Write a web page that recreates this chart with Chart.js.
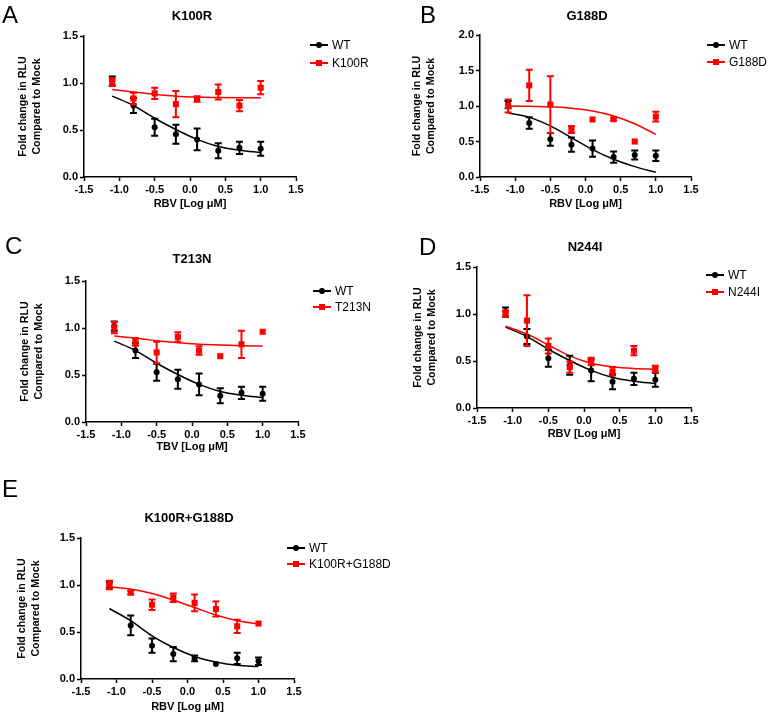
<!DOCTYPE html>
<html><head><meta charset="utf-8">
<script src="https://cdn.jsdelivr.net/npm/chart.js@4.4.1/dist/chart.umd.min.js"></script>
<style>
body{margin:0;background:#fff;width:768px;height:715px;overflow:hidden;position:relative;font-family:"Liberation Sans",Arial,sans-serif;color:#000;}
canvas{position:absolute;}
.t{position:absolute;transform:translate(-50%,-50%);font-weight:bold;font-size:13px;white-space:nowrap;}
.L{position:absolute;font-size:24px;line-height:1;}
.lg{position:absolute;font-size:12px;white-space:nowrap;transform:translateY(-50%);display:flex;align-items:center;}
.sw{position:relative;width:18px;height:8px;margin-right:4px;}
.sw .ln{position:absolute;left:0;right:0;top:3px;height:2px;}
.sw .mk{position:absolute;left:6px;top:1px;width:6px;height:6px;}
</style></head><body>
<script>
// ---- data ----
const doses = [-1.1, -0.8, -0.5, -0.2, 0.1, 0.4, 0.7, 1.0];
const xTickValues = [-1.5, -1.0, -0.5, 0, 0.5, 1.0, 1.5];
const yTickValues = [0, 0.5, 1.0, 1.5];
const yTickValuesB = [0, 0.5, 1.0, 1.5, 2.0];
const panelLetters = ['A', 'B', 'C', 'D', 'E'];
const panelTitles = ['K100R', 'G188D', 'T213N', 'N244I', 'K100R+G188D'];
const xTitles = ['RBV [Log \u03bcM]', 'RBV [Log \u03bcM]', 'TBV [Log \u03bcM]', 'RBV [Log \u03bcM]', 'RBV [Log \u03bcM]'];
const yTitle = ['Fold change in RLU', 'Compared to Mock'];
const wtName = 'WT';

const wtMean = [1.02, 0.76, 0.53, 0.455, 0.40, 0.28, 0.31, 0.30];
const wtErr  = [0.05, 0.08, 0.09, 0.10, 0.115, 0.08, 0.065, 0.075];
const wtFit  = [0.86, 0.76, 0.625, 0.505, 0.40, 0.325, 0.285, 0.26];
const wtFitB = [0.90, 0.84, 0.72, 0.555, 0.385, 0.25, 0.146, 0.066];

const k100rMean = [1.01, 0.835, 0.89, 0.775, 0.83, 0.905, 0.76, 0.95];
const k100rErr  = [0.04, 0.06, 0.06, 0.14, 0.03, 0.08, 0.06, 0.07];
const k100rFit  = [0.93, 0.905, 0.88, 0.86, 0.85, 0.846, 0.843, 0.842];

const g188dMean = [1.00, 1.29, 1.02, 0.67, 0.81, 0.815, 0.50, 0.85];
const g188dErr  = [0.09, 0.22, 0.40, 0.05, 0, 0.02, 0, 0.07];
const g188dFit  = [1.0, 0.995, 0.99, 0.97, 0.93, 0.86, 0.75, 0.60];

const t213nMean = [1.005, 0.85, 0.74, 0.905, 0.76, 0.70, 0.826, 0.96];
const t213nErr  = [0.06, 0.04, 0.115, 0.05, 0.045, 0, 0.145, 0];
const t213nFit  = [0.914, 0.893, 0.865, 0.844, 0.826, 0.82, 0.812, 0.808];

const n244iMean = [1.006, 0.93, 0.66, 0.435, 0.495, 0.39, 0.61, 0.415];
const n244iErr  = [0.03, 0.27, 0.08, 0.06, 0.04, 0.045, 0.05, 0.035];
const n244iFit  = [0.87, 0.787, 0.67, 0.554, 0.476, 0.438, 0.42, 0.413];

const eWtMean = [1.0, 0.57, 0.355, 0.265, 0.22, 0.16, 0.22, 0.19];
const eWtErr  = [0.03, 0.105, 0.075, 0.075, 0.03, 0, 0.06, 0.04];
const eWtFit  = [0.75, 0.62, 0.46, 0.335, 0.24, 0.18, 0.145, 0.134];

const dblMean = [1.0, 0.92, 0.79, 0.865, 0.81, 0.745, 0.56, 0.59];
const dblErr  = [0.045, 0.02, 0.055, 0.045, 0.09, 0.08, 0.07, 0];
const dblFit  = [0.98, 0.957, 0.91, 0.84, 0.76, 0.68, 0.62, 0.586];

// ---- rendering ----
Chart.defaults.font.family = "'Liberation Sans', Arial, sans-serif";
Chart.defaults.color = '#000';
const RED = '#ff0000', BLACK = '#000000';

const errorBarPlugin = {
  id: 'errbars',
  beforeDatasetDraw(chart, args) {
    const ds = chart.data.datasets[args.index];
    if (!ds.errors) return;
    const xs = chart.scales.x, ys = chart.scales.y, ctx = chart.ctx;
    ctx.save();
    ctx.strokeStyle = ds.borderColor; ctx.lineWidth = 2;
    ds.data.forEach((pt, i) => {
      const e = ds.errors[i]; if (!e) return;
      const px = xs.getPixelForValue(pt.x);
      const y1 = ys.getPixelForValue(pt.y + e), y2 = ys.getPixelForValue(pt.y - e);
      ctx.beginPath();
      ctx.moveTo(px, y1); ctx.lineTo(px, y2);
      ctx.moveTo(px - 3.5, y1); ctx.lineTo(px + 3.5, y1);
      ctx.moveTo(px - 3.5, y2); ctx.lineTo(px + 3.5, y2);
      ctx.stroke();
    });
    ctx.restore();
  }
};

const pts = (ys) => doses.map((x, i) => ({x: x, y: ys[i]}));

function addText(cls, txt, x, y) {
  const d = document.createElement('div');
  d.className = cls; d.textContent = txt;
  d.style.left = x + 'px'; d.style.top = y + 'px';
  document.body.appendChild(d);
  return d;
}
function addLegend(x, y, name, color, square) {
  const d = document.createElement('div');
  d.className = 'lg'; d.style.left = x + 'px'; d.style.top = y + 'px';
  const sw = document.createElement('div'); sw.className = 'sw';
  const ln = document.createElement('div'); ln.className = 'ln'; ln.style.background = color;
  const mk = document.createElement('div'); mk.className = 'mk'; mk.style.background = color;
  if (!square) mk.style.borderRadius = '50%';
  sw.appendChild(ln); sw.appendChild(mk); d.appendChild(sw);
  const s = document.createElement('span'); s.textContent = name; d.appendChild(s);
  document.body.appendChild(d);
}

function buildPanel(p) {
  const cv = document.createElement('canvas');
  cv.width = p.w; cv.height = p.h;
  cv.style.left = p.left + 'px'; cv.style.top = p.top + 'px';
  cv.style.width = p.w + 'px'; cv.style.height = p.h + 'px';
  document.body.appendChild(cv);
  const [al, at, ar, ab] = p.area;
  const yW = al - p.left, xH = p.top + p.h - ab;
  const padTop = at - p.top, padRight = p.left + p.w - ar;
  const mkScatter = (name, mean, err, color, style, order) => ({
    type: 'scatter', label: name, data: pts(mean), errors: err,
    borderColor: color, backgroundColor: color, pointStyle: style,
    pointRadius: style === 'rect' ? 4.3 : 3, pointBorderWidth: 0, showLine: false, order: order, clip: false
  });
  const mkFit = (name, fit, color, order) => ({
    type: 'line', label: name + ' fit', data: pts(fit), borderColor: color, backgroundColor: color,
    borderWidth: 1.5, pointRadius: 0, cubicInterpolationMode: 'monotone', order: order, clip: false
  });
  new Chart(cv, {
    data: {
      datasets: [
        mkScatter(p.mutName, p.mutMean, p.mutErr, RED, 'rect', 0),
        mkScatter(wtName, p.wtMean, p.wtErr, BLACK, 'circle', 1),
        mkFit(p.mutName, p.mutFit, RED, 2),
        mkFit(wtName, p.wtFit, BLACK, 3)
      ]
    },
    plugins: [errorBarPlugin],
    options: {
      responsive: false, animation: false, devicePixelRatio: 1,
      layout: {padding: {top: padTop, right: padRight, left: 0, bottom: 0}},
      plugins: {legend: {display: false}, tooltip: {enabled: false}},
      scales: {
        x: {
          type: 'linear', min: xTickValues[0], max: xTickValues[xTickValues.length - 1],
          afterBuildTicks: (s) => { s.ticks = xTickValues.map(v => ({value: v})); },
          afterFit: (s) => { s.height = xH; },
          ticks: {font: {size: 11, weight: 'bold'}, padding: 2, color: '#000', maxRotation: 0,
                  callback: (v) => Number(v).toFixed(1)},
          grid: {drawOnChartArea: false, drawTicks: true, tickLength: 4, tickColor: '#000', tickWidth: 1.5},
          border: {display: true, color: '#000', width: 1.5},
          title: {display: true, text: p.xTitle, font: {size: 11, weight: 'bold', lineHeight: 1.2},
                  padding: {top: 0, bottom: 0}, color: '#000'}
        },
        y: {
          type: 'linear', min: p.yTicks[0], max: p.yTicks[p.yTicks.length - 1],
          afterBuildTicks: (s) => { s.ticks = p.yTicks.map(v => ({value: v})); },
          afterFit: (s) => { s.width = yW; },
          ticks: {font: {size: 11, weight: 'bold'}, padding: 2, color: '#000',
                  callback: (v) => Number(v).toFixed(1)},
          grid: {drawOnChartArea: false, drawTicks: true, tickLength: 4, tickColor: '#000', tickWidth: 1.5},
          border: {display: true, color: '#000', width: 1.5},
          title: {display: true, text: yTitle, font: {size: 10.7, weight: 'bold', lineHeight: 1.3},
                  padding: {top: p.yTitlePad, bottom: 0}, color: '#000'}
        }
      }
    }
  });
  addText('L', p.letter, p.letterPos[0], p.letterPos[1]);
  addText('t', p.title, p.titlePos[0], p.titlePos[1]);
  addLegend(p.legendPos[0], p.legendPos[1], wtName, BLACK, false);
  addLegend(p.legendPos[0], p.legendPos[1] + p.legendGap, p.mutName, RED, true);
}

const panels = [
  {left: 0, top: 0, w: 384, h: 211, area: [84, 36, 296, 177], yTicks: yTickValues, yTitlePad: 16,
   letterPos: [2, 3], titlePos: [192, 15], legendPos: [310, 45], legendGap: 18,
   mutName: panelTitles[0], mutMean: k100rMean, mutErr: k100rErr, mutFit: k100rFit,
   wtMean: wtMean, wtErr: wtErr, wtFit: wtFit},
  {left: 384, top: 0, w: 384, h: 211, area: [480, 35, 691, 177], yTicks: yTickValuesB, yTitlePad: 26,
   letterPos: [420, 3], titlePos: [587, 15], legendPos: [707, 45], legendGap: 17,
   mutName: panelTitles[1], mutMean: g188dMean, mutErr: g188dErr, mutFit: g188dFit,
   wtMean: wtMean, wtErr: wtErr, wtFit: wtFitB},
  {left: 0, top: 230, w: 384, h: 224, area: [86, 281, 298, 422], yTicks: yTickValues, yTitlePad: 18,
   letterPos: [5, 234], titlePos: [192, 258], legendPos: [313, 291], legendGap: 16,
   mutName: panelTitles[2], mutMean: t213nMean, mutErr: t213nErr, mutFit: t213nFit,
   wtMean: wtMean, wtErr: wtErr, wtFit: wtFit},
  {left: 384, top: 230, w: 384, h: 211, area: [477, 267, 691, 408], yTicks: yTickValues, yTitlePad: 27,
   letterPos: [419, 235], titlePos: [585, 246], legendPos: [706, 275], legendGap: 17,
   mutName: panelTitles[3], mutMean: n244iMean, mutErr: n244iErr, mutFit: n244iFit,
   wtMean: wtMean, wtErr: wtErr, wtFit: wtFit},
  {left: 0, top: 470, w: 384, h: 244, area: [81, 538, 294, 679], yTicks: yTickValues, yTitlePad: 15,
   letterPos: [2, 477], titlePos: [189, 517], legendPos: [287, 548], legendGap: 16,
   mutName: panelTitles[4], mutMean: dblMean, mutErr: dblErr, mutFit: dblFit,
   wtMean: eWtMean, wtErr: eWtErr, wtFit: eWtFit}
];
panels.forEach((p, i) => {
  p.letter = panelLetters[i]; p.title = panelTitles[i]; p.xTitle = xTitles[i];
  buildPanel(p);
});
</script>
</body></html>
